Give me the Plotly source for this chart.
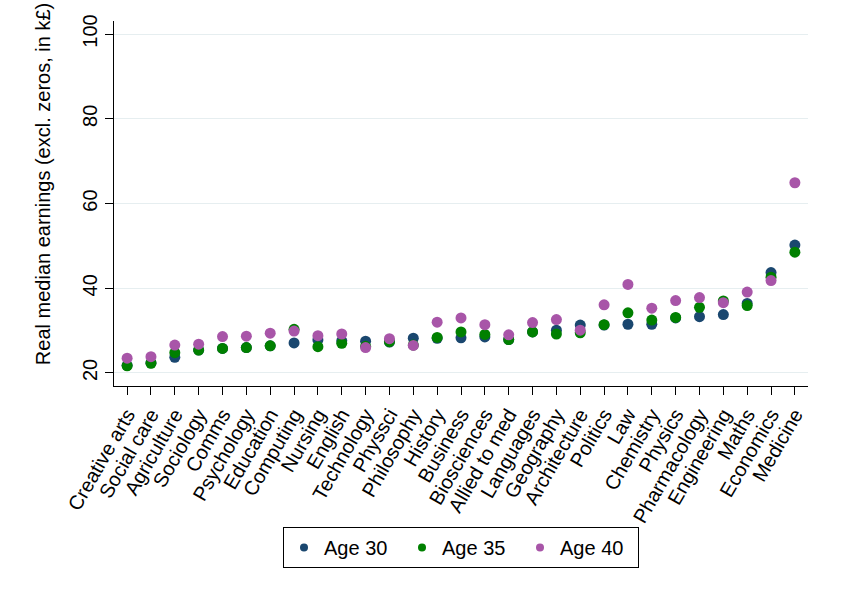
import plotly.graph_objects as go

categories = ["Creative arts", "Social care", "Agriculture", "Sociology", "Comms", "Psychology",
              "Education", "Computing", "Nursing", "English", "Technology", "Physsci", "Philosophy",
              "History", "Business", "Biosciences", "Allied to med", "Languages", "Geography",
              "Architecture", "Politics", "Law", "Chemistry", "Physics", "Pharmacology",
              "Engineering", "Maths", "Economics", "Medicine"]

age30 = [21.8, 22.4, 23.7, 25.4, 25.8, 26.0, 26.4, 27.1, 27.8, 27.6, 27.5, 27.3, 28.2, 28.2, 28.3,
         28.5, 27.9, 29.7, 30.1, 31.3, 31.3, 31.5, 31.5, 33.0, 33.3, 33.8, 36.4, 43.7, 50.2]
age35 = [21.7, 22.3, 24.8, 25.4, 25.8, 26.0, 26.4, 30.3, 26.2, 27.0, 26.3, 27.4, 26.6, 28.4, 29.7,
         29.1, 27.9, 29.7, 29.2, 29.5, 31.4, 34.2, 32.5, 33.1, 35.5, 37.0, 35.9, 42.6, 48.5]
age40 = [23.5, 23.85, 26.6, 26.8, 28.6, 28.7, 29.4, 29.9, 28.8, 29.2, 26.0, 28.1, 26.5, 32.0, 33.0,
         31.4, 29.0, 31.9, 32.6, 30.1, 36.1, 40.9, 35.3, 37.1, 37.8, 36.6, 39.1, 41.8, 64.9]

series_names = ["Age 30", "Age 35", "Age 40"]
series_values = [age30, age35, age40]
colors = ["#1a476f", "#008000", "#a855a8"]
y_ticks = [20, 40, 60, 80, 100]

FONT = "Liberation Sans, Arial, sans-serif"
FS = 20

fig = go.Figure()
for name, vals, col in zip(series_names, series_values, colors):
    fig.add_trace(go.Scatter(x=categories, y=vals, mode="markers", name=name,
                             marker=dict(color=col, size=11, line=dict(width=0)),
                             showlegend=False))
# legend entries with smaller symbols
for name, col in zip(series_names, colors):
    fig.add_trace(go.Scatter(x=[None], y=[None], mode="markers", name=name,
                             marker=dict(color=col, size=8)))

fig.update_layout(
    width=848, height=604,
    margin=dict(l=114, r=40, t=21, b=218),
    paper_bgcolor="white", plot_bgcolor="white",
    font=dict(family=FONT, size=FS, color="black"),
    showlegend=True,
    legend=dict(orientation="h", x=0.5, xanchor="center", y=-0.386, yanchor="top",
                bordercolor="black", borderwidth=1, font=dict(size=FS),
                itemwidth=30, entrywidth=73),
    annotations=[dict(text="Real median earnings (excl. zeros, in k£)", textangle=-90,
                      xref="paper", yref="paper", x=0, xshift=-71, xanchor="center",
                      y=0.553, yanchor="middle", showarrow=False,
                      font=dict(size=FS, family=FONT, color="black"))],
)
fig.update_xaxes(type="category", categoryorder="array", categoryarray=categories,
                 tickmode="array", tickvals=categories, ticktext=categories,
                 range=[-0.55, 28.55], tickangle=-60, ticks="outside", ticklen=8,
                 tickcolor="black", showline=True, linecolor="black", linewidth=1,
                 showgrid=False, zeroline=False, tickfont=dict(size=FS))
fig.update_yaxes(range=[16.93, 103.07], tickvals=y_ticks, ticktext=[str(v) for v in y_ticks],
                 tickangle=-90, ticks="outside", ticklen=8, tickcolor="black",
                 showline=True, linecolor="black", linewidth=1,
                 showgrid=True, gridcolor="#e6eef0", gridwidth=1, zeroline=False,
                 tickfont=dict(size=FS))

fig.write_html("out.html")
